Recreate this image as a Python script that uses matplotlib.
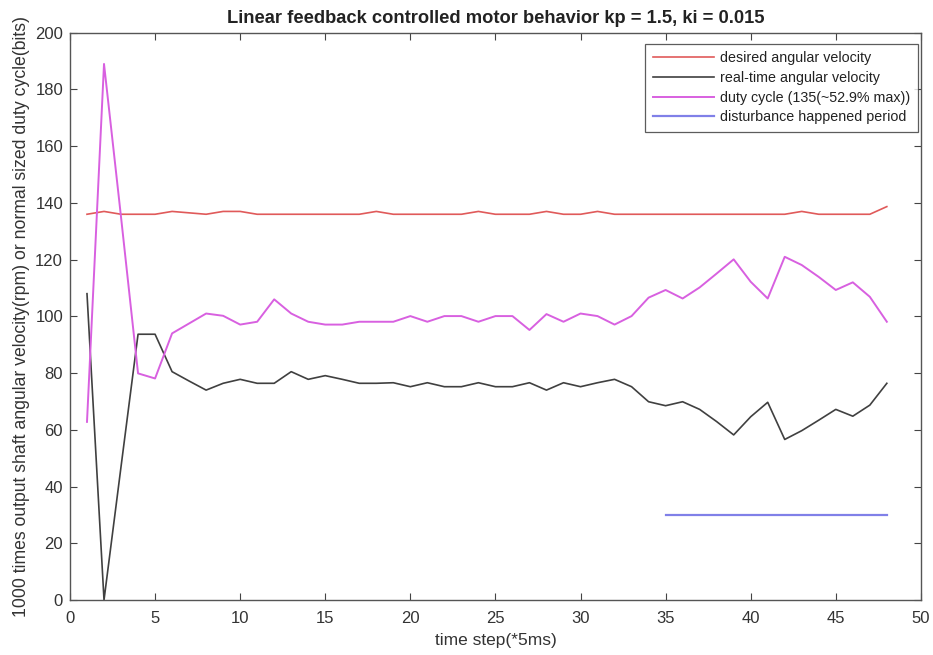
import matplotlib
matplotlib.use("Agg")
import matplotlib.pyplot as plt
import numpy as np

plt.rcParams['font.family'] = ['Liberation Sans', 'DejaVu Sans']

steps = list(range(1, 49))
desired = [136, 137, 136, 136, 136, 137, 136.5, 136, 137, 137, 136, 136, 136, 136, 136, 136, 136, 137,
           136, 136, 136, 136, 136, 137, 136, 136, 136, 137, 136, 136, 137, 136, 136, 136, 136, 136,
           136, 136, 136, 136, 136, 136, 137, 136, 136, 136, 136, 138.7]
realtime = [108, 0, 47, 93.7, 93.7, 80.5, 77.2, 74.0, 76.4, 77.8, 76.4, 76.4, 80.5, 77.8, 79.1, 77.8, 76.4, 76.4,
            76.6, 75.2, 76.6, 75.2, 75.2, 76.6, 75.2, 75.2, 76.6, 74.0, 76.6, 75.2, 76.6, 77.8, 75.2, 69.9,
            68.5, 69.9, 67.2, 62.9, 58.2, 64.6, 69.7, 56.6, 59.7, 63.4, 67.2, 64.8, 68.7, 76.4]
duty = [62.8, 189, 135, 79.9, 78.1, 94.0, 97.5, 101.0, 100.2, 97.1, 98.1, 106.0, 101.0, 98.1, 97.1, 97.1, 98.1, 98.1,
        98.1, 100.1, 98.1, 100.1, 100.1, 98.1, 100.1, 100.1, 95.2, 100.8, 98.1, 101.0, 100.1, 97.1, 100.1, 106.6,
        109.3, 106.3, 110.2, 115.1, 120.1, 112.2, 106.3, 121.0, 118.1, 113.9, 109.3, 112.0, 106.9, 98.1]
dist_x = [35, 48]
dist_y = [30, 30]

fig = plt.figure(figsize=(9.33, 6.55), dpi=100)
ax = fig.add_axes([0.075, 0.084, 0.912, 0.866])

ax.plot(steps, desired, color='#e05a5a', lw=1.2, label='desired angular velocity')
ax.plot(steps, realtime, color='#404040', lw=1.2, label='real-time angular velocity')
ax.plot(steps, duty, color='#d860e0', lw=1.4, label='duty cycle (135(~52.9% max))')
ax.plot(dist_x, dist_y, color='#8080e8', lw=1.6, label='disturbance happened period')

ax.set_xlim(0, 50)
ax.set_ylim(0, 200)
ax.set_xticks(np.arange(0, 51, 5))
ax.set_yticks(np.arange(0, 201, 20))
ax.tick_params(direction='in', top=True, right=True, length=5, width=0.8, color='#444444',
               labelsize=12, labelcolor='#333333')
ax.tick_params(axis='x', pad=8)
ax.tick_params(axis='y', pad=5)
for s in ax.spines.values():
    s.set_color('#555555')
    s.set_linewidth(1.0)

ax.set_title('Linear feedback controlled motor behavior kp = 1.5, ki = 0.015', fontsize=13.2,
             fontweight='bold', color='#222222', pad=7)
ax.set_xlabel('time step(*5ms)', fontsize=12.5, color='#333333', labelpad=5)
ax.set_ylabel('1000 times output shaft angular velocity(rpm) or normal sized duty cycle(bits)',
              fontsize=12.7, color='#333333', labelpad=4)

leg = ax.legend(loc='upper right', bbox_to_anchor=(0.9965, 0.98), frameon=True, fancybox=False,
                handlelength=4.3, handletextpad=0.45, borderpad=0.5, labelspacing=0.4, borderaxespad=0,
                prop={'size': 10.3})
leg.get_frame().set_edgecolor('#333333')
leg.get_frame().set_linewidth(0.9)
for t in leg.get_texts():
    t.set_color('#222222')

fig.savefig('out.png', dpi=100, facecolor='white')
